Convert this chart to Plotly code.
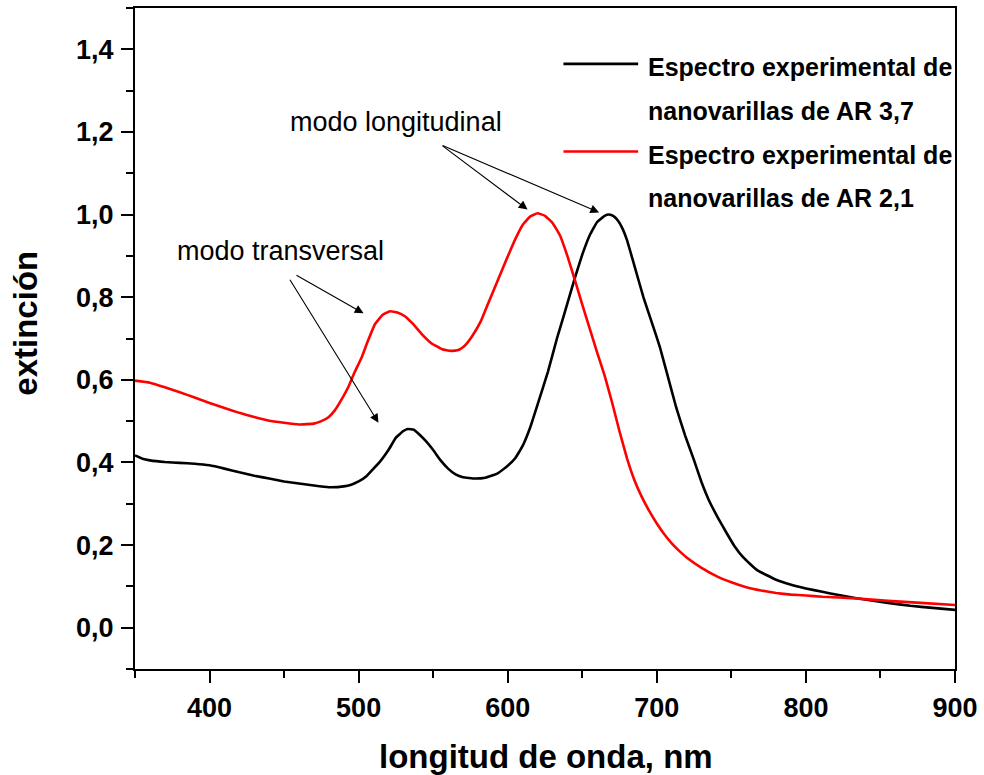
import plotly.graph_objects as go

# ---------------- data ----------------
black_nm = [350, 355, 360, 370, 380, 390, 400, 410, 420, 430, 440, 450, 460, 470, 480, 490, 495,
            500, 505, 510, 515, 520, 525, 530, 533, 537, 540, 545, 550, 555, 560, 565, 570,
            578, 585, 593, 600, 605, 610, 615, 620, 627, 633, 638, 645, 650, 655, 660, 665,
            668, 671, 674, 677, 680, 685, 691, 697, 702, 708, 713, 719, 725, 730, 735, 741, 747,
            752, 758, 767, 780, 789, 800, 811, 822, 833, 844, 855, 870, 885, 900]
black_val = [0.417, 0.409, 0.405, 0.401, 0.399, 0.397, 0.393, 0.385, 0.376, 0.368, 0.361, 0.354,
             0.349, 0.344, 0.340, 0.342, 0.346, 0.354, 0.366, 0.385, 0.405, 0.430, 0.460, 0.476,
             0.481, 0.479, 0.470, 0.452, 0.430, 0.405, 0.385, 0.371, 0.364, 0.361, 0.363, 0.373,
             0.392, 0.410, 0.440, 0.484, 0.540, 0.620, 0.700, 0.760, 0.846, 0.903, 0.950, 0.982,
             0.997, 1.000, 0.996, 0.985, 0.966, 0.938, 0.876, 0.800, 0.735, 0.680, 0.600, 0.533,
             0.465, 0.405, 0.352, 0.308, 0.266, 0.228, 0.198, 0.170, 0.140, 0.116, 0.105, 0.095,
             0.087, 0.079, 0.072, 0.066, 0.060, 0.053, 0.048, 0.043]

red_nm = [350, 360, 370, 380, 390, 400, 410, 420, 430, 440, 450, 460, 470, 475, 480, 484, 488,
          493, 497, 502, 506, 511, 516, 521, 526, 531, 536, 542, 549, 556, 562, 567, 571, 576,
          582, 587, 593, 599, 605, 610, 615, 620, 625, 630, 635, 640, 645, 650, 655, 660, 665,
          670, 675, 680, 685, 690, 695, 700, 705, 710, 715, 720, 730, 740, 750, 760, 770, 780,
          790, 800, 811, 833, 855, 877, 900]
red_val = [0.598, 0.593, 0.582, 0.570, 0.557, 0.544, 0.532, 0.520, 0.510, 0.501, 0.496, 0.492,
           0.494, 0.500, 0.510, 0.526, 0.549, 0.582, 0.616, 0.654, 0.692, 0.735, 0.757, 0.766,
           0.763, 0.754, 0.737, 0.712, 0.688, 0.674, 0.670, 0.672, 0.682, 0.705, 0.742, 0.786,
           0.838, 0.890, 0.940, 0.975, 0.995, 1.003, 0.997, 0.980, 0.950, 0.900, 0.842, 0.782,
           0.724, 0.666, 0.610, 0.545, 0.475, 0.410, 0.357, 0.316, 0.282, 0.252, 0.226, 0.204,
           0.186, 0.170, 0.145, 0.125, 0.110, 0.098, 0.090, 0.084, 0.080, 0.078, 0.075, 0.071,
           0.065, 0.060, 0.055]

series_names = ["Espectro experimental de<br>nanovarillas de AR 3,7",
                "Espectro experimental de<br>nanovarillas de AR 2,1"]

x_tickvals = [400, 500, 600, 700, 800, 900]
x_ticktext = ["400", "500", "600", "700", "800", "900"]
y_tickvals = [0.0, 0.2, 0.4, 0.6, 0.8, 1.0, 1.2, 1.4]
y_ticktext = ["0,0", "0,2", "0,4", "0,6", "0,8", "1,0", "1,2", "1,4"]

FONT = "Arial, Liberation Sans, sans-serif"

fig = go.Figure()
fig.add_trace(go.Scatter(x=black_nm, y=black_val, mode="lines", name=series_names[0],
                         line=dict(color="black", width=2.6, shape="spline", smoothing=0.3),
                         showlegend=False))
fig.add_trace(go.Scatter(x=red_nm, y=red_val, mode="lines", name=series_names[1],
                         line=dict(color="#ff0000", width=2.6, shape="spline", smoothing=0.3),
                         showlegend=False))

axis_common = dict(
    showline=True, linecolor="black", linewidth=2, mirror=True,
    ticks="outside", ticklen=12, tickwidth=2, tickcolor="black",
    showgrid=False, zeroline=False,
    tickfont=dict(family=FONT, size=27, color="black", weight="bold"),
)

fig.update_xaxes(range=[350, 900], tickvals=x_tickvals, ticktext=x_ticktext,
                 minor=dict(dtick=50, tick0=350, ticks="outside", ticklen=7, tickwidth=2,
                            tickcolor="black"),
                 ticklabelstandoff=2, **axis_common)
fig.update_yaxes(range=[-0.1, 1.5], tickvals=y_tickvals, ticktext=y_ticktext,
                 minor=dict(dtick=0.1, tick0=-0.1, ticks="outside", ticklen=7, tickwidth=2,
                            tickcolor="black"),
                 ticklabelstandoff=2, **axis_common)

annotations = []
# axis titles
annotations.append(dict(text="<b>longitud de onda, nm</b>", xref="paper", yref="paper",
                        x=0.501, y=-0.1327, xanchor="center", yanchor="middle", showarrow=False,
                        font=dict(family=FONT, size=33, color="black")))
annotations.append(dict(text="<b>extinción</b>", xref="paper", yref="paper",
                        x=-0.1337, y=0.523, xanchor="center", yanchor="middle", showarrow=False,
                        textangle=-90, font=dict(family=FONT, size=33, color="black")))

# label texts
annotations.append(dict(text="modo transversal", x=447.3, y=0.911, xref="x", yref="y",
                        showarrow=False, font=dict(family=FONT, size=27, color="black")))
annotations.append(dict(text="modo longitudinal", x=525.3, y=1.224, xref="x", yref="y",
                        showarrow=False, font=dict(family=FONT, size=27, color="black")))

arrow_style = dict(showarrow=True, arrowhead=2, arrowsize=1.6, arrowwidth=1.1,
                   arrowcolor="black", xref="x", yref="y", axref="x", ayref="y", text="",
                   standoff=0, startstandoff=0)
for (tx, ty, sx, sy) in [(503.3, 0.761, 457.3, 0.855), (513.3, 0.496, 453.3, 0.846),
                         (613.3, 1.012, 555.3, 1.169), (661.3, 1.005, 555.3, 1.169)]:
    annotations.append(dict(x=tx, y=ty, ax=sx, ay=sy, **arrow_style))

# manual legend
leg_rows_y = [0.911, 0.8446, 0.7783, 0.7119]
leg_texts = ["Espectro experimental de", "nanovarillas de AR 3,7",
             "Espectro experimental de", "nanovarillas de AR 2,1"]
for t, yy in zip(leg_texts, leg_rows_y):
    annotations.append(dict(text="<b>" + t + "</b>", xref="paper", yref="paper", x=0.6233, y=yy,
                            xanchor="left", yanchor="middle", showarrow=False,
                            font=dict(family=FONT, size=25, color="black")))

shapes = [
    dict(type="line", xref="paper", yref="paper", x0=0.5225, x1=0.6136, y0=0.9155, y1=0.9155,
         line=dict(color="black", width=2.6)),
    dict(type="line", xref="paper", yref="paper", x0=0.5225, x1=0.6136, y0=0.7828, y1=0.7828,
         line=dict(color="#ff0000", width=2.6)),
]

fig.update_layout(
    width=984, height=775,
    margin=dict(l=135, r=26, t=6, b=106),
    paper_bgcolor="white", plot_bgcolor="white",
    annotations=annotations, shapes=shapes,
    font=dict(family=FONT, color="black"),
)

fig.write_html("out.html")
